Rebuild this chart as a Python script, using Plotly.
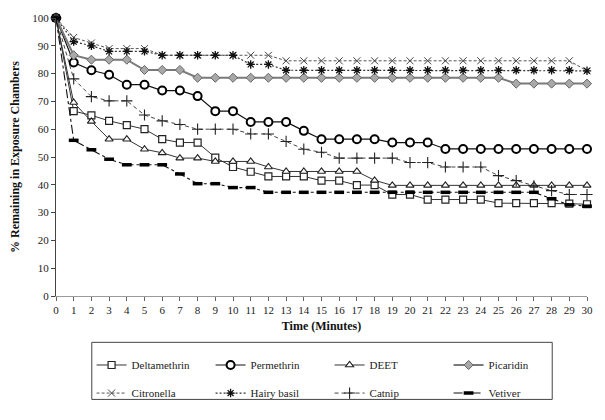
import plotly.graph_objects as go

# Time points (minutes) and % remaining for each repellent
minutes = list(range(0, 31))

deltamethrin = [100, 66.5, 65, 63, 61.5, 60, 56.4, 55.2, 55.2, 49.8, 46.4, 44.7, 43, 43, 43,
                41.5, 41.5, 39.9, 39.9, 36.5, 36.5, 34.7, 34.7, 34.7, 34.7, 33.4, 33.4, 33.4,
                33.4, 33.2, 33]
permethrin = [100, 84, 81.2, 79.6, 76, 76, 73.9, 73.9, 71.9, 66.5, 66.5, 62.6, 62.6, 62.6,
              59.4, 56.4, 56.4, 56.4, 56.4, 55.2, 55.2, 55.2, 52.9, 52.9, 52.9, 52.9, 52.9,
              52.9, 52.9, 52.9, 52.9]
deet = [100, 69.6, 62.8, 56.4, 56.4, 52.8, 51.5, 49.6, 49.6, 48.4, 48.4, 48.4, 46.4, 44.8,
        44.8, 44.8, 44.8, 44.8, 41.6, 39.8, 39.8, 39.8, 39.8, 39.8, 39.8, 39.8, 39.8, 39.8,
        39.8, 39.8, 39.8]
picaridin = [100, 86.6, 85, 85, 85, 81.3, 81.3, 81.3, 78.5, 78.5, 78.5, 78.5, 78.5, 78.5,
             78.5, 78.5, 78.5, 78.5, 78.5, 78.5, 78.5, 78.5, 78.5, 78.5, 78.5, 78.5, 76.4,
             76.4, 76.4, 76.4, 76.4]
citronella = [100, 93, 91, 89, 89, 89, 86.6, 86.6, 86.6, 86.6, 86.6, 86.6, 86.6, 84.6, 84.6,
              84.6, 84.6, 84.6, 84.6, 84.6, 84.6, 84.6, 84.6, 84.6, 84.6, 84.6, 84.6, 84.6,
              84.6, 84.6, 81]
hairy_basil = [100, 91.5, 90, 88, 88, 88, 86.6, 86.6, 86.6, 86.6, 86.6, 83.3, 83.3, 81.2,
               81.2, 81.2, 81.2, 81.2, 81.2, 81.2, 81.2, 81.2, 81.2, 81.2, 81.2, 81.2, 81.2,
               81.2, 81.2, 81.2, 81]
catnip = [100, 78.1, 71.7, 70.2, 70.2, 65.1, 63, 61.7, 60, 60, 60, 58.3, 58.3, 55.6, 52.8,
          51.7, 49.6, 49.6, 49.6, 49.6, 48, 48, 46.4, 46.4, 46.4, 43.3, 41.5, 39.6, 37.9,
          36.5, 36.5]
vetiver = [100, 56, 52.6, 49.2, 47.2, 47.2, 47.2, 43.9, 40.4, 40.4, 39, 39, 37.3, 37.3, 37.3,
           37.3, 37.3, 37.3, 37.3, 37.3, 37.3, 37.3, 37.3, 37.3, 37.3, 37.3, 37.3, 37.3,
           35, 32.8, 32.3]

y_ticks = list(range(0, 101, 10))
x_ticks = list(range(0, 31))

# name, values, line style, marker style, legend row
series = [
    ("Deltamethrin", deltamethrin, dict(color="#333333", width=1, dash="solid"),
     dict(symbol="square", size=7, color="white", line=dict(color="#222222", width=1.2)), "legend"),
    ("Permethrin", permethrin, dict(color="#111111", width=1.2, dash="solid"),
     dict(symbol="circle", size=8, color="white", line=dict(color="#000000", width=2)), "legend"),
    ("DEET", deet, dict(color="#333333", width=1, dash="solid"),
     dict(symbol="triangle-up", size=7, color="white", line=dict(color="#222222", width=1.1)), "legend"),
    ("Picaridin", picaridin, dict(color="#7a7a7a", width=2, dash="solid"),
     dict(symbol="diamond", size=7, color="#a8a8a8", line=dict(color="#666666", width=1)), "legend"),
    ("Citronella", citronella, dict(color="#555555", width=1, dash="3px,2px"),
     dict(symbol="x-thin-open", size=7, color="#444444", line=dict(color="#444444", width=1)), "legend2"),
    ("Hairy basil", hairy_basil, dict(color="#333333", width=1.2, dash="2px,2px"),
     dict(symbol="asterisk-open", size=7, color="#111111", line=dict(color="#111111", width=1.3)), "legend2"),
    ("Catnip", catnip, dict(color="#444444", width=1, dash="4px,3px"),
     dict(symbol="cross-thin-open", size=8, color="#222222", line=dict(color="#222222", width=1.1)), "legend2"),
    ("Vetiver", vetiver, dict(color="#111111", width=1.1, dash="dashdot"),
     dict(symbol="line-ew-open", size=7, color="#000000", line=dict(color="#000000", width=3.5)), "legend2"),
]

fig = go.Figure()
for name, vals, line, marker, leg in series:
    fig.add_trace(go.Scatter(
        x=minutes, y=vals, name=name, mode="lines+markers",
        line=line, marker=marker, cliponaxis=False, legend=leg,
    ))

font_family = "Liberation Serif, Times New Roman, serif"

legend_common = dict(
    orientation="h", xanchor="left", yanchor="top", x=0.067,
    entrywidth=74, entrywidthmode="pixels",
    borderwidth=0, bgcolor="rgba(0,0,0,0)",
    font=dict(family=font_family, size=11, color="#222222"),
    itemwidth=30,
)

fig.update_layout(
    width=605, height=420,
    margin=dict(l=56, r=15, t=14, b=112),
    paper_bgcolor="white", plot_bgcolor="white",
    font=dict(family=font_family, size=11, color="#222222"),
    showlegend=True,
    legend=dict(legend_common, y=-0.196),
    legend2=dict(legend_common, y=-0.297),
    shapes=[dict(type="rect", xref="paper", yref="paper",
                 x0=0.0674, x1=0.9345, y0=-0.1667, y1=-0.372,
                 line=dict(color="#444444", width=1), fillcolor="rgba(0,0,0,0)")],
    xaxis=dict(
        range=[0, 30], tickmode="array", tickvals=x_ticks, ticktext=[str(v) for v in x_ticks],
        showgrid=False, zeroline=False, showline=True, linecolor="#9a9a9a", linewidth=1,
        ticks="outside", ticklen=4, tickcolor="#666666",
        tickfont=dict(family=font_family, size=11, color="#222222"),
        title=dict(text="<b>Time (Minutes)</b>", standoff=6,
                   font=dict(family=font_family, size=12, color="#111111")),
    ),
    yaxis=dict(
        range=[0, 100], tickmode="array", tickvals=y_ticks,
        showgrid=False, zeroline=False, showline=True, linecolor="#444444", linewidth=1,
        ticks="outside", ticklen=4, tickcolor="#444444",
        tickfont=dict(family=font_family, size=11, color="#222222"),
        title=dict(text="<b>% Remaining in Exposure Chambers</b>", standoff=10,
                   font=dict(family=font_family, size=12, color="#111111")),
    ),
)

fig.write_html("out.html")
